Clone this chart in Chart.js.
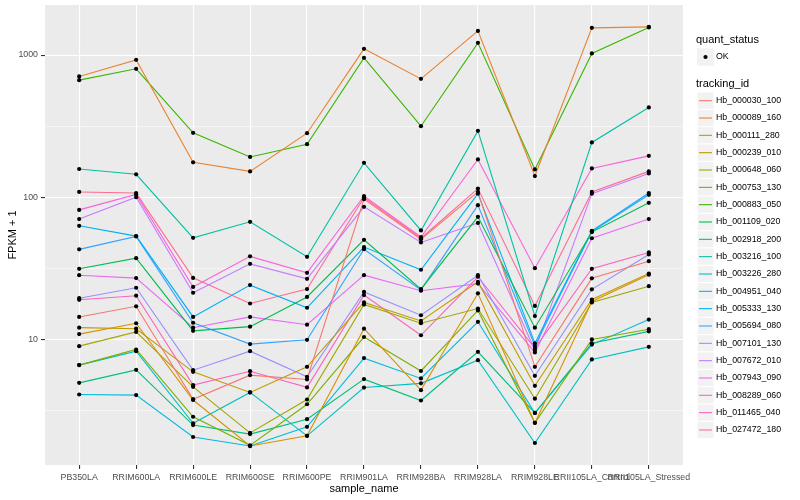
<!DOCTYPE html>
<html>
<head>
<meta charset="utf-8">
<script src="https://cdn.jsdelivr.net/npm/chart.js@4.4.0/dist/chart.umd.min.js"></script>
<style>
  html, body { margin: 0; padding: 0; background: #fff; }
  #wrap { width: 800px; height: 500px; }
</style>
</head>
<body>
<div id="wrap"><canvas id="chart" width="800" height="500"></canvas></div>
<script>
// --- data (FPKM + 1, one value per sample) ---
const samples = ['PB350LA', 'RRIM600LA', 'RRIM600LE', 'RRIM600SE', 'RRIM600PE', 'RRIM901LA',
	'RRIM928BA', 'RRIM928LA', 'RRIM928LE', 'RRII105LA_Control', 'RRII105LA_Stressed'];

const trackingIds = ['Hb_000030_100', 'Hb_000089_160', 'Hb_000111_280', 'Hb_000239_010', 'Hb_000648_060',
	'Hb_000753_130', 'Hb_000883_050', 'Hb_001109_020', 'Hb_002918_200', 'Hb_003216_100',
	'Hb_003226_280', 'Hb_004951_040', 'Hb_005333_130', 'Hb_005694_080', 'Hb_007101_130',
	'Hb_007672_010', 'Hb_007943_090', 'Hb_008289_060', 'Hb_011465_040', 'Hb_027472_180'];

const hb000030_100 = [14.4, 17.1, 3.8, 5.61, 5.23, 97, 50.7, 109, 6.42, 26.9, 35.5];
const hb000089_160 = [707, 925, 176, 152, 282, 1106, 680, 1479, 141, 1553, 1579];
const hb000111_280 = [10.9, 13, 3.75, 1.78, 2.1, 11.9, 4.4, 21.1, 2.59, 18.5, 28.5];
const hb000239_010 = [12.1, 11.9, 5.92, 4.24, 6.42, 18.2, 13.5, 25.4, 4.72, 19.1, 29.1];
const hb000648_060 = [8.97, 11.3, 4.64, 2.2, 3.78, 17.6, 13, 16.5, 3.83, 18.2, 23.7];
const hb000753_130 = [6.6, 8.5, 2.86, 1.8, 3.5, 10.4, 6.0, 16, 2.59, 10, 11.8];
const hb000883_050 = [666, 800, 284, 192, 236, 956, 316, 1219, 157, 1026, 1563];
const hb001109_020 = [31.4, 37.3, 11.5, 12.3, 19.9, 50.2, 22.6, 72.8, 12.1, 56.9, 91.4];
const hb002918_200 = [4.95, 6.11, 2.5, 2.16, 2.75, 5.26, 3.72, 8.18, 3.04, 9.4, 11.4];
const hb003216_100 = [158, 145, 51.8, 67.2, 38.1, 174.6, 58.4, 293, 14.6, 243, 428];
const hb003226_280 = [6.6, 8.27, 2.57, 4.24, 2.1, 4.59, 4.91, 7.15, 1.87, 7.24, 8.87];
const hb004951_040 = [4.1, 4.06, 2.06, 1.78, 2.43, 7.39, 5.32, 13.3, 3.04, 9.2, 13.8];
const hb005333_130 = [63, 53.3, 14.4, 24.1, 16.7, 44.6, 30.9, 106, 9.4, 58, 107];
const hb005694_080 = [43, 53, 13.1, 9.27, 9.94, 43.1, 22.3, 88, 9.0, 57.5, 104];
const hb007101_130 = [19.5, 23.1, 6.08, 8.27, 5.46, 21.6, 14.8, 28.3, 5.55, 22.5, 39.6];
const hb007672_010 = [70.2, 100, 21.3, 34, 26.7, 85.6, 48.1, 66, 8.4, 106, 147];
const hb007943_090 = [28.3, 27, 12.1, 14.4, 12.7, 28.3, 22, 24.7, 8.1, 51.5, 70.2];
const hb008289_060 = [81.5, 104.6, 23.4, 38.4, 29.4, 102, 52.5, 184.5, 31.7, 159.5, 195.5];
const hb011465_040 = [19.0, 20.3, 4.77, 5.98, 4.6, 20.5, 10.7, 27.6, 8.7, 31.4, 40.9];
const hb027472_180 = [109, 107, 27.1, 17.9, 22.6, 99.7, 51.5, 115, 17.2, 109, 152];

const seriesValues = [hb000030_100, hb000089_160, hb000111_280, hb000239_010, hb000648_060,
	hb000753_130, hb000883_050, hb001109_020, hb002918_200, hb003216_100,
	hb003226_280, hb004951_040, hb005333_130, hb005694_080, hb007101_130,
	hb007672_010, hb007943_090, hb008289_060, hb011465_040, hb027472_180];

// y ticks: majors get a label, the half-decade ones are minor gridlines only
const yTickValues = [Math.pow(10, 0.5), 10, Math.pow(10, 1.5), 100, Math.pow(10, 2.5), 1000];
const yTickLabels = ['', '10', '', '100', '', '1000'];

// ggplot default hue palette for 20 levels
const colours = ['#F8766D', '#EA8331', '#D89000', '#C09B00', '#A3A500', '#7CAE00', '#39B600', '#00BB4E',
	'#00BF7D', '#00C1A3', '#00BFC4', '#00BAE0', '#00B0F6', '#35A2FF', '#9590FF', '#C77CFF',
	'#E76BF3', '#FA62DB', '#FF62BC', '#FF6C91'];

const FONT = '"Liberation Sans", Arial, sans-serif';
Chart.defaults.font.family = FONT;

// grey panel behind the grid, white page around it
const panelPlugin = {
	id: 'panel',
	beforeDraw(chart) {
		const c = chart.ctx, a = chart.chartArea;
		c.save();
		c.fillStyle = '#FFFFFF';
		c.fillRect(0, 0, chart.width, chart.height);
		c.fillStyle = '#EBEBEB';
		c.fillRect(a.left, a.top, a.right - a.left, a.bottom - a.top);
		c.restore();
	}
};

// ggplot style legend: quant_status block then tracking_id block
const legendPlugin = {
	id: 'ggLegend',
	afterDraw(chart) {
		const c = chart.ctx;
		const x0 = 697, keyW = 17, keyH = 17.33;
		c.save();
		c.textBaseline = 'middle';
		c.textAlign = 'left';

		c.fillStyle = '#000';
		c.font = '11px ' + FONT;
		c.fillText('quant_status', 696, 40);

		c.fillStyle = '#F2F2F2';
		c.fillRect(x0, 57 - keyH / 2, keyW, keyH);
		c.fillStyle = '#000';
		c.beginPath();
		c.arc(x0 + keyW / 2, 57, 2.1, 0, Math.PI * 2);
		c.fill();
		c.font = '8.8px ' + FONT;
		c.fillText('OK', 716, 57);

		c.font = '11px ' + FONT;
		c.fillText('tracking_id', 696, 84);

		c.font = '8.8px ' + FONT;
		trackingIds.forEach((id, i) => {
			const yc = 100.7 + i * keyH;
			c.fillStyle = '#F2F2F2';
			c.fillRect(x0, yc - keyH / 2, keyW, keyH);
			c.strokeStyle = '#FFFFFF';
			c.lineWidth = 1;
			c.strokeRect(x0, yc - keyH / 2, keyW, keyH);
			c.strokeStyle = colours[i];
			c.lineWidth = 1.1;
			c.beginPath();
			c.moveTo(x0 + 2, yc);
			c.lineTo(x0 + keyW - 2, yc);
			c.stroke();
			c.fillStyle = '#000';
			c.fillText(id, 716, yc);
		});
		c.restore();
	}
};

const lineSets = trackingIds.map((id, i) => ({
	label: id,
	data: seriesValues[i].map((v, j) => ({ x: j, y: v })),
	borderColor: colours[i],
	backgroundColor: colours[i],
	borderWidth: 1.1,
	pointRadius: 0,
	fill: false,
	tension: 0,
	order: 1
}));

// all points on top of all lines, like geom_point after geom_line
const pointSet = {
	label: 'OK',
	data: seriesValues.flatMap(vals => vals.map((v, j) => ({ x: j, y: v }))),
	showLine: false,
	pointRadius: 2.1,
	pointBackgroundColor: '#000',
	pointBorderWidth: 0,
	order: 0
};

new Chart(document.getElementById('chart'), {
	type: 'line',
	data: { datasets: [pointSet].concat(lineSets) },
	options: {
		responsive: false,
		animation: false,
		layout: { padding: { top: 5, right: 117, left: 0, bottom: 0 } },
		plugins: { legend: { display: false }, tooltip: { enabled: false } },
		scales: {
			x: {
				type: 'linear',
				bounds: 'data',
				min: -0.6,
				max: samples.length - 0.4,
				afterBuildTicks: s => { s.ticks = samples.map((_, i) => ({ value: i })); },
				afterFit: s => { s.height = 35; s.paddingLeft = 0; s.paddingRight = 0; },
				ticks: {
					callback: v => samples[v],
					autoSkip: false, maxRotation: 0, minRotation: 0,
					color: '#4D4D4D', font: { size: 8.8 }, padding: 3
				},
				grid: { color: '#FFFFFF', lineWidth: 1.1, tickLength: 4, tickColor: '#333333' },
				border: { display: false },
				title: { display: true, text: 'sample_name', color: '#000', font: { size: 11 }, padding: { top: 2, bottom: 4 } }
			},
			y: {
				type: 'logarithmic',
				bounds: 'data',
				min: Math.pow(10, 0.117),
				max: Math.pow(10, 3.352),
				afterBuildTicks: s => { s.ticks = yTickValues.map(v => ({ value: v })); },
				afterFit: s => { s.width = 45; s.paddingTop = 0; s.paddingBottom = 0; },
				ticks: {
					callback: (v, i) => yTickLabels[i],
					autoSkip: false,
					color: '#4D4D4D', font: { size: 8.8 }, padding: 3
				},
				grid: {
					color: '#FFFFFF',
					lineWidth: ctx => (yTickLabels[ctx.index] ? 1.1 : 0.55),
					tickColor: ctx => (yTickLabels[ctx.index] ? '#333333' : 'rgba(0,0,0,0)'),
					tickLength: 4
				},
				border: { display: false },
				title: { display: true, text: 'FPKM + 1', color: '#000', font: { size: 11 }, padding: { top: 6, bottom: 2 } }
			}
		}
	},
	plugins: [panelPlugin, legendPlugin]
});
</script>
</body>
</html>
